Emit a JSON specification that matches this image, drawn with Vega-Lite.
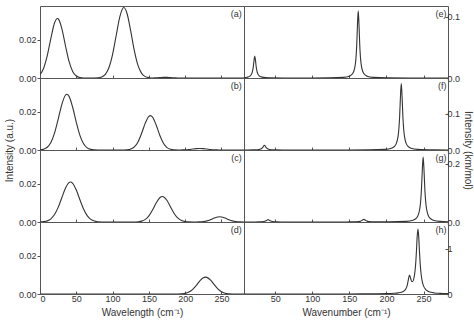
{
  "$schema": "https://vega.github.io/schema/vega-lite/v6.json",
  "padding": {"left": 3, "right": 0, "top": 5, "bottom": 0},
  "background": "white",
  "config": {
    "font": "Liberation Sans",
    "view": {"stroke": "#555", "strokeWidth": 1},
    "axis": {"labelFont": "Liberation Sans", "labelFontSize": 9, "labelColor": "#333", "titleFont": "Liberation Sans", "titleFontSize": 10, "titleFontWeight": "normal", "titleColor": "#333", "domain": false, "grid": false, "tickColor": "#555", "minExtent": 0},
    "line": {"color": "#333", "strokeWidth": 1.1, "interpolate": "monotone"},
    "text": {"font": "Liberation Sans", "fontSize": 9, "color": "#333"}
  },
  "spacing": 0,
  "bounds": "flush",
  "align": "each",
  "columns": 2,
  "datasets": {
    "a": [{"x":0,"y":0.00174},{"x":5,"y":0.0051},{"x":10,"y":0.01164},{"x":15,"y":0.02068},{"x":20,"y":0.02862},{"x":24,"y":0.031},{"x":25,"y":0.03085},{"x":30,"y":0.0259},{"x":35,"y":0.01693},{"x":40,"y":0.00862},{"x":45,"y":0.00342},{"x":50,"y":0.00106},{"x":55,"y":0.00025},{"x":60,"y":0.00003},{"x":70,"y":0},{"x":80,"y":0.00012},{"x":85,"y":0.00054},{"x":90,"y":0.00192},{"x":95,"y":0.00546},{"x":100,"y":0.01235},{"x":105,"y":0.02226},{"x":110,"y":0.032},{"x":115.5,"y":0.0367},{"x":120,"y":0.03348},{"x":125,"y":0.02437},{"x":130,"y":0.01415},{"x":135,"y":0.00654},{"x":140,"y":0.00241},{"x":145,"y":0.00071},{"x":150,"y":0.00017},{"x":155,"y":0.00003},{"x":160,"y":0.0001},{"x":165,"y":0.0002},{"x":170,"y":0.0003},{"x":175,"y":0.0003},{"x":180,"y":0.0002},{"x":185,"y":0.0001},{"x":190,"y":0},{"x":281,"y":0}],
    "b": [{"x":0,"y":0.0001},{"x":5,"y":0.00042},{"x":10,"y":0.00143},{"x":15,"y":0.00392},{"x":20,"y":0.00879},{"x":25,"y":0.016},{"x":30,"y":0.02368},{"x":35,"y":0.02852},{"x":37,"y":0.029},{"x":40,"y":0.02794},{"x":45,"y":0.02226},{"x":50,"y":0.01443},{"x":55,"y":0.0076},{"x":60,"y":0.00326},{"x":65,"y":0.00114},{"x":70,"y":0.00032},{"x":75,"y":0.00007},{"x":80,"y":0},{"x":110,"y":0},{"x":120,"y":0.00011},{"x":125,"y":0.00047},{"x":130,"y":0.00159},{"x":135,"y":0.00422},{"x":140,"y":0.00871},{"x":145,"y":0.01401},{"x":150,"y":0.01754},{"x":152,"y":0.0179},{"x":155,"y":0.01711},{"x":160,"y":0.013},{"x":165,"y":0.00769},{"x":170,"y":0.00354},{"x":175,"y":0.00127},{"x":180,"y":0.00035},{"x":185,"y":0.00008},{"x":190,"y":0},{"x":195,"y":0.00004},{"x":200,"y":0.00011},{"x":205,"y":0.00026},{"x":210,"y":0.00049},{"x":215,"y":0.00071},{"x":220,"y":0.0008},{"x":225,"y":0.00071},{"x":230,"y":0.00049},{"x":235,"y":0.00026},{"x":240,"y":0.00011},{"x":245,"y":0.00004},{"x":250,"y":0},{"x":281,"y":0}],
    "c": [{"x":0,"y":0.00005},{"x":5,"y":0.00018},{"x":10,"y":0.00059},{"x":15,"y":0.00166},{"x":20,"y":0.00387},{"x":25,"y":0.00763},{"x":30,"y":0.01262},{"x":35,"y":0.01755},{"x":40,"y":0.02051},{"x":42,"y":0.0208},{"x":45,"y":0.02016},{"x":50,"y":0.01665},{"x":55,"y":0.01157},{"x":60,"y":0.00675},{"x":65,"y":0.00331},{"x":70,"y":0.00137},{"x":75,"y":0.00047},{"x":80,"y":0.00014},{"x":85,"y":0.00003},{"x":90,"y":0},{"x":130,"y":0},{"x":135,"y":0.00013},{"x":140,"y":0.00046},{"x":145,"y":0.00136},{"x":150,"y":0.00323},{"x":155,"y":0.00626},{"x":160,"y":0.00987},{"x":165,"y":0.01264},{"x":168.5,"y":0.0133},{"x":170,"y":0.01318},{"x":175,"y":0.01117},{"x":180,"y":0.0077},{"x":185,"y":0.00432},{"x":190,"y":0.00197},{"x":195,"y":0.00073},{"x":200,"y":0.00022},{"x":205,"y":0.00005},{"x":210,"y":0.00001},{"x":215,"y":0.00001},{"x":220,"y":0.00006},{"x":225,"y":0.00021},{"x":230,"y":0.00058},{"x":235,"y":0.00124},{"x":240,"y":0.00204},{"x":245,"y":0.00262},{"x":247.5,"y":0.0027},{"x":250,"y":0.00262},{"x":255,"y":0.00204},{"x":260,"y":0.00124},{"x":265,"y":0.00058},{"x":270,"y":0.00021},{"x":275,"y":0.00006},{"x":281,"y":0.00001}],
    "d": [{"x":0,"y":0},{"x":180,"y":0},{"x":190,"y":0.00002},{"x":195,"y":0.0001},{"x":200,"y":0.00034},{"x":205,"y":0.00099},{"x":210,"y":0.00231},{"x":215,"y":0.00438},{"x":220,"y":0.00675},{"x":225,"y":0.00848},{"x":228,"y":0.0088},{"x":230,"y":0.00866},{"x":235,"y":0.00719},{"x":240,"y":0.00485},{"x":245,"y":0.00267},{"x":250,"y":0.00119},{"x":255,"y":0.00043},{"x":260,"y":0.00013},{"x":265,"y":0.00003},{"x":270,"y":0},{"x":281,"y":0}],
    "e": [{"x":8,"y":0.00067},{"x":12.5,"y":0.00138},{"x":16.5,"y":0.0036},{"x":18.5,"y":0.0072},{"x":19.5,"y":0.01108},{"x":20.5,"y":0.018},{"x":21.5,"y":0.0288},{"x":22.5,"y":0.036},{"x":23.5,"y":0.0288},{"x":24.5,"y":0.018},{"x":25.5,"y":0.01108},{"x":26.5,"y":0.0072},{"x":28.5,"y":0.0036},{"x":32.5,"y":0.00138},{"x":42.5,"y":0.00036},{"x":62.5,"y":0.00012},{"x":100,"y":0.00012},{"x":122,"y":0.00027},{"x":142,"y":0.00109},{"x":150,"y":0.00297},{"x":154,"y":0.00647},{"x":156,"y":0.011},{"x":158,"y":0.022},{"x":159,"y":0.0338},{"x":160,"y":0.055},{"x":161,"y":0.088},{"x":162,"y":0.11},{"x":163,"y":0.088},{"x":164,"y":0.055},{"x":165,"y":0.0338},{"x":166,"y":0.022},{"x":168,"y":0.011},{"x":170,"y":0.00647},{"x":174,"y":0.00297},{"x":182,"y":0.00109},{"x":202,"y":0.00027},{"x":230,"y":0.0001},{"x":283,"y":0.00003}],
    "f": [{"x":8,"y":0.0001},{"x":10.5,"y":0.00013},{"x":20.5,"y":0.00035},{"x":25.5,"y":0.00076},{"x":28,"y":0.0013},{"x":30.5,"y":0.0026},{"x":31.75,"y":0.004},{"x":33,"y":0.0065},{"x":34.25,"y":0.0104},{"x":35.5,"y":0.013},{"x":36.75,"y":0.0104},{"x":38,"y":0.0065},{"x":39.25,"y":0.004},{"x":40.5,"y":0.0026},{"x":43,"y":0.0013},{"x":45.5,"y":0.00076},{"x":50.5,"y":0.00035},{"x":60.5,"y":0.00013},{"x":100,"y":0.0001},{"x":150,"y":0.00018},{"x":176,"y":0.00046},{"x":198,"y":0.00181},{"x":206.8,"y":0.00494},{"x":211.2,"y":0.01076},{"x":213.4,"y":0.0183},{"x":215.6,"y":0.0366},{"x":216.7,"y":0.0563},{"x":217.8,"y":0.0915},{"x":218.9,"y":0.1464},{"x":220,"y":0.183},{"x":221.1,"y":0.1464},{"x":222.2,"y":0.0915},{"x":223.3,"y":0.0563},{"x":224.4,"y":0.0366},{"x":226.6,"y":0.0183},{"x":228.8,"y":0.01076},{"x":233.2,"y":0.00494},{"x":242,"y":0.00181},{"x":264,"y":0.00046},{"x":283,"y":0.0002}],
    "g": [{"x":8,"y":0.00007},{"x":10.5,"y":0.00008},{"x":22.5,"y":0.00022},{"x":28.5,"y":0.00047},{"x":31.5,"y":0.0008},{"x":34.5,"y":0.0016},{"x":36,"y":0.00246},{"x":37.5,"y":0.004},{"x":39,"y":0.0064},{"x":40.5,"y":0.008},{"x":42,"y":0.0064},{"x":43.5,"y":0.004},{"x":45,"y":0.00246},{"x":46.5,"y":0.0016},{"x":49.5,"y":0.0008},{"x":52.5,"y":0.00047},{"x":58.5,"y":0.00022},{"x":70.5,"y":0.00008},{"x":110,"y":0.0001},{"x":139.5,"y":0.0002},{"x":151.5,"y":0.00036},{"x":157.5,"y":0.00067},{"x":160.5,"y":0.00105},{"x":163.5,"y":0.00196},{"x":165,"y":0.00293},{"x":166.5,"y":0.00467},{"x":168,"y":0.00737},{"x":169.5,"y":0.00917},{"x":171,"y":0.00738},{"x":172.5,"y":0.00468},{"x":174,"y":0.00295},{"x":175.5,"y":0.002},{"x":178.5,"y":0.0011},{"x":181.5,"y":0.00073},{"x":187.5,"y":0.00047},{"x":199.5,"y":0.00056},{"x":203.5,"y":0.00056},{"x":226.5,"y":0.0022},{"x":235.7,"y":0.00602},{"x":240.3,"y":0.0131},{"x":242.6,"y":0.0223},{"x":244.9,"y":0.0446},{"x":246.05,"y":0.0686},{"x":247.2,"y":0.1115},{"x":248.35,"y":0.1784},{"x":249.5,"y":0.223},{"x":250.65,"y":0.1784},{"x":251.8,"y":0.1115},{"x":252.95,"y":0.0686},{"x":254.1,"y":0.0446},{"x":256.4,"y":0.0223},{"x":258.7,"y":0.0131},{"x":263.3,"y":0.00602},{"x":272.5,"y":0.0022},{"x":283,"y":0.0011}],
    "h": [{"x":8,"y":0.00024},{"x":100,"y":0.00067},{"x":150,"y":0.0016},{"x":180,"y":0.0037},{"x":200,"y":0.0083},{"x":210,"y":0.0152},{"x":216,"y":0.0249},{"x":220,"y":0.0384},{"x":223,"y":0.059},{"x":225,"y":0.0858},{"x":227,"y":0.1404},{"x":228.5,"y":0.2246},{"x":229.5,"y":0.3129},{"x":231,"y":0.4195},{"x":232.5,"y":0.3532},{"x":234,"y":0.2783},{"x":235.5,"y":0.2761},{"x":237,"y":0.3426},{"x":238.5,"y":0.501},{"x":239.7,"y":0.736},{"x":240.5,"y":0.9624},{"x":241.5,"y":1.2775},{"x":242.5,"y":1.4353},{"x":243.5,"y":1.2724},{"x":244.5,"y":0.9517},{"x":245.3,"y":0.7201},{"x":246.5,"y":0.4756},{"x":248,"y":0.2995},{"x":250,"y":0.1795},{"x":253,"y":0.0986},{"x":256,"y":0.062},{"x":260,"y":0.038},{"x":265,"y":0.0235},{"x":272,"y":0.0139},{"x":283,"y":0.0072}]
  },
  "concat": [
    {"width": 204, "height": 72, "layer": [
      {"data": {"name": "a"}, "mark": {"type": "line", "clip": true}, "encoding": {
        "x": {"field": "x", "type": "quantitative", "scale": {"domain": [0, 281], "nice": false, "zero": false}, "axis": {"values": [0,50,100,150,200,250], "labels": false, "title": null, "tickSize": -3}},
        "y": {"field": "y", "type": "quantitative", "scale": {"domain": [0, 0.0375], "nice": false}, "axis": {"values": [0, 0.02], "format": ".2f", "title": null, "tickSize": 3, "labelPadding": 1}}}},
      {"data": {"values": [{"label": "(a)"}]}, "mark": {"type": "text", "align": "right", "baseline": "middle"}, "encoding": {"x": {"datum": 278}, "y": {"datum": 0.0333}, "text": {"field": "label"}}}
    ]},
    {"width": 204, "height": 72, "layer": [
      {"data": {"name": "e"}, "mark": {"type": "line", "clip": true}, "encoding": {
        "x": {"field": "x", "type": "quantitative", "scale": {"domain": [8, 283], "nice": false, "zero": false}, "axis": {"values": [50,100,150,200,250], "labels": false, "title": null, "tickSize": -3}},
        "y": {"field": "y", "type": "quantitative", "scale": {"domain": [0, 0.118], "nice": false}, "axis": {"orient": "right", "values": [0, 0.1], "format": ".1f", "title": null, "tickSize": -3, "labelPadding": 2}}}},
      {"data": {"values": [{"label": "(e)"}]}, "mark": {"type": "text", "align": "right", "baseline": "middle"}, "encoding": {"x": {"datum": 281}, "y": {"datum": 0.105}, "text": {"field": "label"}}}
    ]},
    {"width": 204, "height": 72, "layer": [
      {"data": {"name": "b"}, "mark": {"type": "line", "clip": true}, "encoding": {
        "x": {"field": "x", "type": "quantitative", "scale": {"domain": [0, 281], "nice": false, "zero": false}, "axis": {"values": [0,50,100,150,200,250], "labels": false, "title": null, "tickSize": -3}},
        "y": {"field": "y", "type": "quantitative", "scale": {"domain": [0, 0.0375], "nice": false}, "axis": {"values": [0, 0.02], "format": ".2f", "title": "Intensity (a.u.)", "titleY": 72, "titlePadding": 4, "tickSize": 3, "labelPadding": 1}}}},
      {"data": {"values": [{"label": "(b)"}]}, "mark": {"type": "text", "align": "right", "baseline": "middle"}, "encoding": {"x": {"datum": 278}, "y": {"datum": 0.0333}, "text": {"field": "label"}}}
    ]},
    {"width": 204, "height": 72, "layer": [
      {"data": {"name": "f"}, "mark": {"type": "line", "clip": true}, "encoding": {
        "x": {"field": "x", "type": "quantitative", "scale": {"domain": [8, 283], "nice": false, "zero": false}, "axis": {"values": [50,100,150,200,250], "labels": false, "title": null, "tickSize": -3}},
        "y": {"field": "y", "type": "quantitative", "scale": {"domain": [0, 0.198], "nice": false}, "axis": {"orient": "right", "values": [0, 0.1], "format": ".1f", "title": "Intensity (km/mol)", "titleY": 72, "titlePadding": 3, "tickSize": -3, "labelPadding": 2}}}},
      {"data": {"values": [{"label": "(f)"}]}, "mark": {"type": "text", "align": "right", "baseline": "middle"}, "encoding": {"x": {"datum": 281}, "y": {"datum": 0.176}, "text": {"field": "label"}}}
    ]},
    {"width": 204, "height": 72, "layer": [
      {"data": {"name": "c"}, "mark": {"type": "line", "clip": true}, "encoding": {
        "x": {"field": "x", "type": "quantitative", "scale": {"domain": [0, 281], "nice": false, "zero": false}, "axis": {"values": [0,50,100,150,200,250], "labels": false, "title": null, "tickSize": -3}},
        "y": {"field": "y", "type": "quantitative", "scale": {"domain": [0, 0.0375], "nice": false}, "axis": {"values": [0, 0.02], "format": ".2f", "title": null, "tickSize": 3, "labelPadding": 1}}}},
      {"data": {"values": [{"label": "(c)"}]}, "mark": {"type": "text", "align": "right", "baseline": "middle"}, "encoding": {"x": {"datum": 278}, "y": {"datum": 0.0333}, "text": {"field": "label"}}}
    ]},
    {"width": 204, "height": 72, "layer": [
      {"data": {"name": "g"}, "mark": {"type": "line", "clip": true}, "encoding": {
        "x": {"field": "x", "type": "quantitative", "scale": {"domain": [8, 283], "nice": false, "zero": false}, "axis": {"values": [50,100,150,200,250], "labels": false, "title": null, "tickSize": -3}},
        "y": {"field": "y", "type": "quantitative", "scale": {"domain": [0, 0.247], "nice": false}, "axis": {"orient": "right", "values": [0, 0.2], "format": ".1f", "title": null, "tickSize": -3, "labelPadding": 2}}}},
      {"data": {"values": [{"label": "(g)"}]}, "mark": {"type": "text", "align": "right", "baseline": "middle"}, "encoding": {"x": {"datum": 281}, "y": {"datum": 0.22}, "text": {"field": "label"}}}
    ]},
    {"width": 204, "height": 72, "layer": [
      {"data": {"name": "d"}, "mark": {"type": "line", "clip": true}, "encoding": {
        "x": {"field": "x", "type": "quantitative", "scale": {"domain": [0, 281], "nice": false, "zero": false}, "axis": {"values": [0,50,100,150,200,250], "title": "Wavelength (cm⁻¹)", "tickSize": -3, "labelPadding": 3, "titlePadding": 4}},
        "y": {"field": "y", "type": "quantitative", "scale": {"domain": [0, 0.0375], "nice": false}, "axis": {"values": [0, 0.02], "format": ".2f", "title": null, "tickSize": 3, "labelPadding": 1}}}},
      {"data": {"values": [{"label": "(d)"}]}, "mark": {"type": "text", "align": "right", "baseline": "middle"}, "encoding": {"x": {"datum": 278}, "y": {"datum": 0.0333}, "text": {"field": "label"}}}
    ]},
    {"width": 204, "height": 72, "layer": [
      {"data": {"name": "h"}, "mark": {"type": "line", "clip": true}, "encoding": {
        "x": {"field": "x", "type": "quantitative", "scale": {"domain": [8, 283], "nice": false, "zero": false}, "axis": {"values": [50,100,150,200,250], "title": "Wavenumber (cm⁻¹)", "tickSize": -3, "labelPadding": 3, "titlePadding": 4}},
        "y": {"field": "y", "type": "quantitative", "scale": {"domain": [0, 1.59], "nice": false}, "axis": {"orient": "right", "values": [0, 1], "format": "d", "title": null, "tickSize": -3, "labelPadding": 2}}}},
      {"data": {"values": [{"label": "(h)"}]}, "mark": {"type": "text", "align": "right", "baseline": "middle"}, "encoding": {"x": {"datum": 281}, "y": {"datum": 1.41}, "text": {"field": "label"}}}
    ]}
  ]
}
